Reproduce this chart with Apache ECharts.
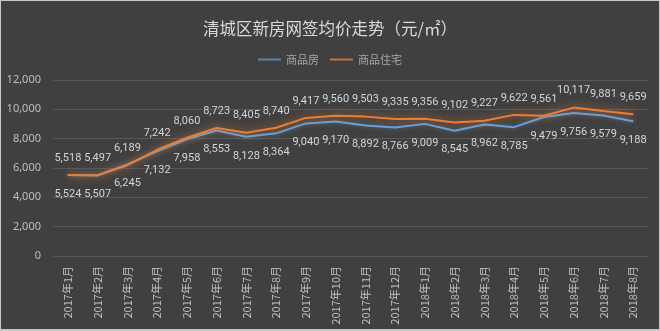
<!DOCTYPE html>
<html><head><meta charset="utf-8">
<script src="https://cdn.jsdelivr.net/npm/echarts@6/dist/echarts.min.js"></script>
<style>html,body{margin:0;padding:0;background:#c8c8c8;}#w{width:660px;height:331px;box-sizing:border-box;border:1px solid #c8c8c8;border-bottom-width:2px;}#c{width:658px;height:328px;}</style>
</head><body><div id="w"><div id="c"></div></div>
<script>
const categories = ['2017年1月','2017年2月','2017年3月','2017年4月','2017年5月','2017年6月','2017年7月','2017年8月','2017年9月','2017年10月','2017年11月','2017年12月','2018年1月','2018年2月','2018年3月','2018年4月','2018年5月','2018年6月','2018年7月','2018年8月'];
const shangpinfang = [5524,5507,6245,7132,7958,8553,8128,8364,9040,9170,8892,8766,9009,8545,8962,8785,9479,9756,9579,9188];
const zhuzhai = [5518,5497,6189,7242,8060,8723,8405,8740,9417,9560,9503,9335,9356,9102,9227,9622,9561,10117,9881,9659];
const chart = echarts.init(document.getElementById('c'));
const fmt = p => Number(p.value).toLocaleString('en-US');
chart.setOption({
  backgroundColor:'#404040',
  title:{text:'清城区新房网签均价走势（元/㎡）',left:'center',top:14,textStyle:{color:'#d9d9d9',fontSize:16.5,fontWeight:'normal',fontFamily:'Noto Sans CJK SC'}},
  legend:{top:48,itemWidth:23,itemHeight:2,itemGap:11,icon:'rect',textStyle:{color:'#a6a6a6',fontSize:11,fontFamily:'Noto Sans CJK SC'},
    data:[{name:'商品房',itemStyle:{color:'#5a84ad'}},{name:'商品住宅',itemStyle:{color:'#c8733a'}}]},
  grid:{left:52,right:11,top:79,bottom:73},
  xAxis:{type:'category',data:categories,boundaryGap:true,axisLine:{show:false},axisTick:{show:false},
    axisLabel:{rotate:90,color:'#bfbfbf',fontSize:11,interval:0,margin:10,fontFamily:'Noto Sans CJK SC'}},
  yAxis:{type:'value',min:0,max:12000,interval:2000,axisLine:{show:false},axisTick:{show:false},
    axisLabel:{color:'#bfbfbf',fontSize:11,margin:12,fontFamily:'Noto Sans',formatter:v=>v.toLocaleString('en-US')},
    splitLine:{lineStyle:{color:'#595959',width:1}}},
  series:[
    {name:'商品房',type:'line',data:shangpinfang,symbol:'circle',symbolSize:1,showSymbol:true,itemStyle:{color:'#6a9fd6'},lineStyle:{width:2,color:'#6a9fd6',shadowColor:'rgba(91,155,213,0.5)',shadowBlur:5},
     label:{show:true,position:'bottom',distance:13,color:'#d4d4d4',fontSize:11,fontFamily:'Roboto',formatter:fmt}},
    {name:'商品住宅',type:'line',data:zhuzhai,symbol:'circle',symbolSize:1,showSymbol:true,itemStyle:{color:'#ed7d31'},lineStyle:{width:2,color:'#ed7d31',shadowColor:'rgba(237,125,49,0.85)',shadowBlur:9},
     label:{show:true,position:'top',distance:11,color:'#d4d4d4',fontSize:11,fontFamily:'Roboto',formatter:fmt}}
  ]
});
</script></body></html>
